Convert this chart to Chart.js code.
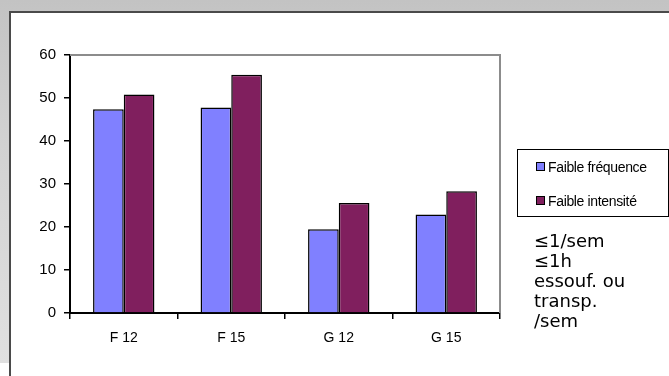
<!DOCTYPE html>
<html lang="fr">
<head>
<meta charset="utf-8">
<script src="https://cdn.jsdelivr.net/npm/chart.js@4.4.1/dist/chart.umd.min.js"></script>
<style>
  html, body { margin: 0; padding: 0; width: 669px; height: 376px; overflow: hidden; background: #ffffff; }
  #backdrop { position: absolute; left: 0; top: 0; width: 669px; height: 363px;
    background: linear-gradient(to bottom, #c3c3c3 0%, #d2d2d2 40%, #e0e0e0 100%); }
  #panel { position: absolute; left: 9px; top: 11px; right: 0; bottom: 0; background: #ffffff;
    border-left: 2px solid #4a4a4a; border-top: 2px solid #4a4a4a; }
  #chart { position: absolute; left: 0; top: 0; }
  #legend { position: absolute; left: 517px; top: 149px; width: 150px; height: 66px;
    border: 1px solid #000; background: #fff; font-family: "Liberation Sans", Arial, sans-serif;
    font-size: 14px; color: #000; }
  .item { position: absolute; left: 18px; height: 16px; line-height: 16px; white-space: nowrap; letter-spacing: -0.35px; }
  .sw { display: inline-block; width: 7px; height: 7px; border: 1px solid #000; margin-right: 3px; vertical-align: 1px; }
  #note { position: absolute; left: 534px; top: 231px; font-family: "DejaVu Sans", Verdana, sans-serif;
    font-size: 18px; line-height: 20px; color: #000; }
</style>
</head>
<body>
<div id="backdrop"></div>
<div id="panel"></div>
<canvas id="chart" width="669" height="376"></canvas>
<div id="legend"></div>
<div id="note"></div>
<script>
// Groups on the x axis
const categories = ["F 12", "F 15", "G 12", "G 15"];
// Series (%)
const seriesNames = ["Faible fréquence", "Faible intensité"];
const faibleFrequence = [47.4, 47.8, 19.5, 22.9];
const faibleIntensite = [50.8, 55.4, 25.6, 28.3];
// Value axis ticks
const yTicks = [0, 10, 20, 30, 40, 50, 60];
// Side note lines
const noteLines = ["≤1/sem", "≤1h", "essouf. ou", "transp.", "/sem"];

const colors = ["#8080ff", "#801f5e"];

// Thin grey frame on the top and right of the plot area
const plotFrame = {
  id: "plotFrame",
  beforeDatasetsDraw(chart) {
    const { ctx, chartArea: a } = chart;
    ctx.save();
    ctx.strokeStyle = "#8c8c8c";
    ctx.lineWidth = 2;
    ctx.beginPath();
    ctx.moveTo(a.left, a.top);
    ctx.lineTo(a.right, a.top);
    ctx.lineTo(a.right, a.bottom);
    ctx.stroke();
    ctx.restore();
  }
};

new Chart(document.getElementById("chart"), {
  type: "bar",
  data: {
    labels: categories,
    datasets: [
      { label: seriesNames[0], data: faibleFrequence, backgroundColor: colors[0], borderColor: "#000", borderWidth: 1.5 },
      { label: seriesNames[1], data: faibleIntensite, backgroundColor: colors[1], borderColor: "#000", borderWidth: 1.5 }
    ]
  },
  plugins: [plotFrame],
  options: {
    responsive: false,
    animation: false,
    devicePixelRatio: 1,
    layout: { padding: { top: 55, right: 169, left: 0, bottom: 0 } },
    datasets: { bar: { categoryPercentage: 0.571, barPercentage: 1 } },
    plugins: { legend: { display: false }, tooltip: { enabled: false } },
    scales: {
      x: {
        afterFit(s) { s.height = 63; },
        grid: { offset: true, drawOnChartArea: false, tickLength: 6, color: "#000", lineWidth: 1.5 },
        border: { color: "#000", width: 2 },
        ticks: { color: "#000", padding: 11, font: { family: "'Liberation Sans', Arial, sans-serif", size: 14 } }
      },
      y: {
        min: 0, max: 60,
        afterFit(s) { s.width = 70; },
        afterBuildTicks(s) { s.ticks = yTicks.map(v => ({ value: v })); },
        grid: { drawOnChartArea: false, tickLength: 6, color: "#000", lineWidth: 1.5 },
        border: { color: "#000", width: 2 },
        ticks: { color: "#000", padding: 8, font: { family: "'Liberation Sans', Arial, sans-serif", size: 15 } }
      }
    }
  }
});

// Legend box
const legend = document.getElementById("legend");
seriesNames.forEach((name, i) => {
  const it = document.createElement("div");
  it.className = "item";
  it.style.top = (i === 0 ? 9 : 43) + "px";
  it.innerHTML = '<span class="sw" style="background:' + colors[i] + '"></span>' + name;
  legend.appendChild(it);
});

// Side note
document.getElementById("note").innerHTML = noteLines.join("<br>");
</script>
</body>
</html>
